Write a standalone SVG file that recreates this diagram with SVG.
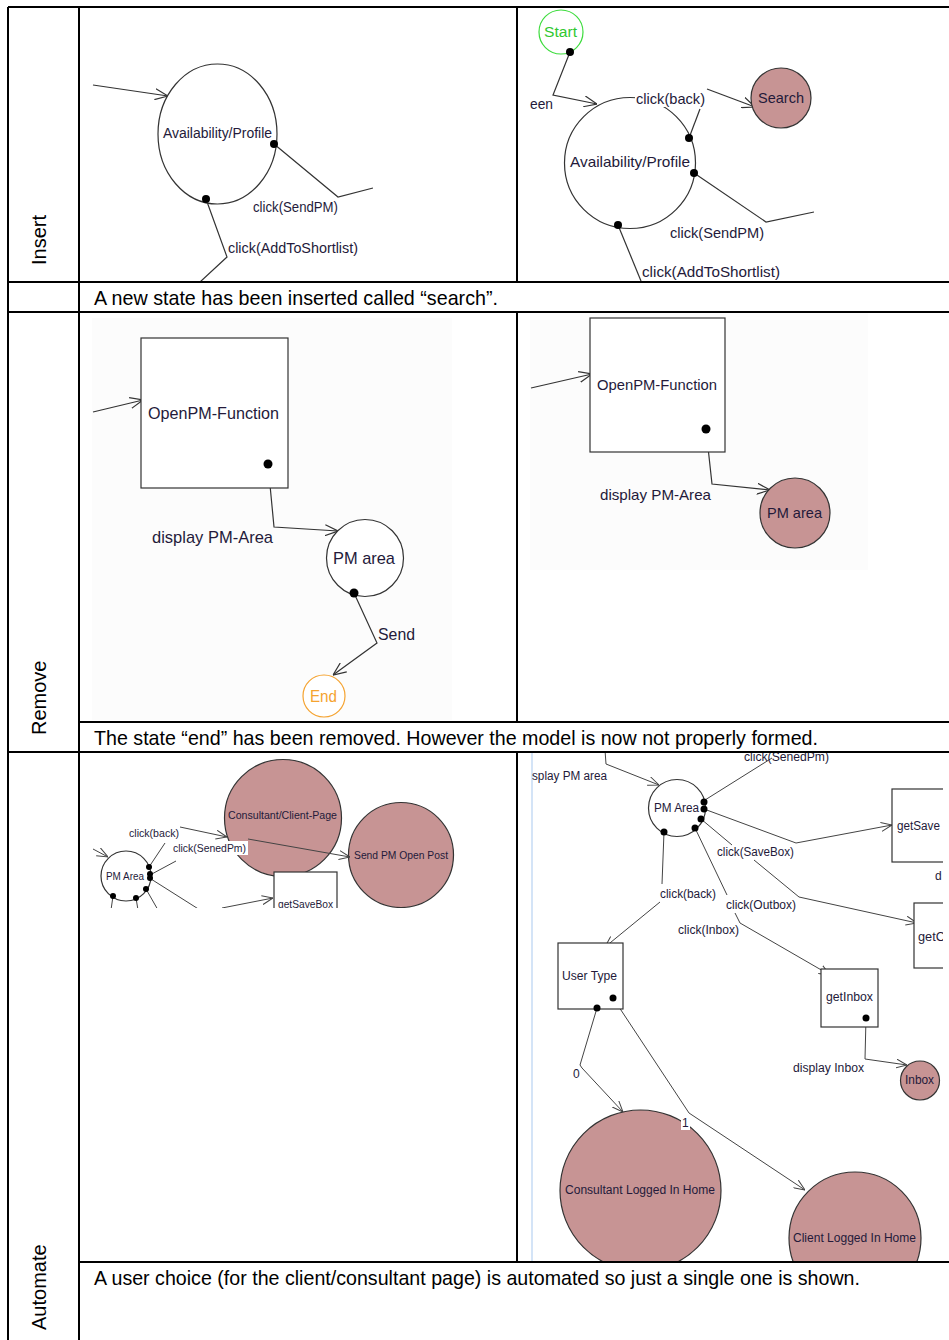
<svg xmlns="http://www.w3.org/2000/svg" width="949" height="1340" viewBox="0 0 949 1340">
<style>
.tbl{stroke:#000;stroke-width:2;fill:none}
.cap{font-family:"Liberation Sans",Arial,sans-serif;font-size:21px;fill:#000}
.lab{font-family:"Liberation Sans",Arial,sans-serif;font-size:20px;fill:#000}
.n{font-family:"Liberation Sans",Arial,sans-serif;fill:#241a3a}
.st{fill:#fff;stroke:#333;stroke-width:1.2}
.stf{fill:#c79494;stroke:#333;stroke-width:1.2}
.c{fill:none;stroke:#333;stroke-width:1.2}
.ca{fill:none;stroke:#333;stroke-width:1.2;marker-end:url(#ah)}
.cs{fill:none;stroke:#444;stroke-width:1;marker-end:url(#ahs)}
.cl{fill:none;stroke:#444;stroke-width:1}
.dot{fill:#000}
.bgw{fill:#fff}
</style>
<defs>
<marker id="ah" viewBox="0 0 13 12" refX="13" refY="6" markerWidth="13" markerHeight="12" orient="auto" markerUnits="userSpaceOnUse"><path d="M0,0.5 L13,6 L0,11.5" fill="none" stroke="#333" stroke-width="1.2"/></marker>
<marker id="ahs" viewBox="0 0 11 10" refX="11" refY="5" markerWidth="11" markerHeight="10" orient="auto" markerUnits="userSpaceOnUse"><path d="M0,0.5 L11,5 L0,9.5" fill="none" stroke="#444" stroke-width="1"/></marker>
<clipPath id="clipAL"><rect x="92" y="753" width="388" height="155"/></clipPath>
<clipPath id="clipAR"><rect x="532" y="753" width="411" height="508"/></clipPath>
<clipPath id="clipIR"><rect x="519" y="8" width="430" height="273"/></clipPath>
<clipPath id="clipIL"><rect x="81" y="8" width="435" height="273"/></clipPath>
</defs>
<rect x="0" y="0" width="949" height="1340" fill="#fff"/>

<!-- Table -->
<g id="table">
<path class="tbl" d="M8,7 H949 M8,282 H949 M8,312 H949 M79,722 H949 M8,752 H949 M79,1262 H949 M8,7 V1340 M79,7 V1340 M517,7 V282 M517,312 V722 M517,752 V1262"/>
</g>
<g id="row-labels">
<text class="lab" transform="translate(46,265) rotate(-90)">Insert</text>
<text class="lab" transform="translate(46,735) rotate(-90)">Remove</text>
<text class="lab" transform="translate(46,1330) rotate(-90)">Automate</text>
</g>
<g id="captions">
<text class="cap" x="94" y="305" textLength="404" lengthAdjust="spacingAndGlyphs">A new state has been inserted called “search”.</text>
<text class="cap" x="94" y="745" textLength="724" lengthAdjust="spacingAndGlyphs">The state “end” has been removed. However the model is now not properly formed.</text>
<text class="cap" x="94" y="1285" textLength="766" lengthAdjust="spacingAndGlyphs">A user choice (for the client/consultant page) is automated so just a single one is shown.</text>
</g>

<!-- ===== Insert, left ===== -->
<g clip-path="url(#clipIL)">
<g id="connectors-insert-left">
<line class="ca" x1="93" y1="85" x2="168" y2="96"/>
<polyline class="c" points="274,144 338,197 373,188"/>
<polyline class="c" points="206,199 227,257 200,282"/>
</g>
<g id="il-avail">
<ellipse class="st" cx="217.5" cy="134" rx="59.5" ry="70"/>
<text class="n" x="163" y="138" font-size="14" textLength="109" lengthAdjust="spacingAndGlyphs">Availability/Profile</text>
<circle class="dot" cx="274" cy="144" r="4"/>
<circle class="dot" cx="206" cy="199" r="4"/>
</g>
<g id="il-labels">
<text class="n" x="253" y="212" font-size="14" textLength="85" lengthAdjust="spacingAndGlyphs">click(SendPM)</text>
<text class="n" x="228" y="253" font-size="14" textLength="130" lengthAdjust="spacingAndGlyphs">click(AddToShortlist)</text>
</g>
</g>

<!-- ===== Insert, right ===== -->
<g clip-path="url(#clipIR)">
<g id="connectors-insert-right">
<polyline class="ca" points="570,52 553,95 597,104"/>
<polyline class="c" points="689,138 700,109"/>
<line class="ca" x1="707" y1="89" x2="755" y2="107"/>
<polyline class="c" points="694,173 766,222 814,212"/>
<line class="c" x1="618" y1="225" x2="641" y2="281"/>
</g>
<g id="ir-start">
<circle cx="561" cy="32" r="22" fill="#fff" stroke="#3ddc3d" stroke-width="1.2"/>
<text class="n" x="544" y="37" font-size="14" style="fill:#30c830" textLength="33" lengthAdjust="spacingAndGlyphs">Start</text>
<circle class="dot" cx="570" cy="52" r="4"/>
</g>
<g id="ir-avail">
<circle class="st" cx="630" cy="163" r="65.5"/>
<text class="n" x="570" y="167" font-size="15" textLength="120" lengthAdjust="spacingAndGlyphs">Availability/Profile</text>
<circle class="dot" cx="689" cy="138" r="4"/>
<circle class="dot" cx="694" cy="173" r="4"/>
<circle class="dot" cx="618" cy="225" r="4"/>
</g>
<g id="ir-search">
<circle class="stf" cx="781" cy="98" r="30"/>
<text class="n" x="758" y="103" font-size="15" textLength="46" lengthAdjust="spacingAndGlyphs">Search</text>
</g>
<g id="ir-labels">
<text class="n" x="530" y="109" font-size="14" textLength="23" lengthAdjust="spacingAndGlyphs">een</text>
<rect class="bgw" x="635" y="90" width="71" height="17"/>
<text class="n" x="636" y="104" font-size="15" textLength="69" lengthAdjust="spacingAndGlyphs">click(back)</text>
<text class="n" x="670" y="238" font-size="15" textLength="94" lengthAdjust="spacingAndGlyphs">click(SendPM)</text>
<text class="n" x="642" y="277" font-size="15" textLength="138" lengthAdjust="spacingAndGlyphs">click(AddToShortlist)</text>
</g>
</g>

<!-- ===== Remove, left ===== -->
<rect x="92" y="318" width="360" height="402" fill="#fcfcfc"/>
<g id="connectors-remove-left">
<line class="ca" x1="93" y1="412" x2="143" y2="400"/>
<polyline class="ca" points="268,464 274,527 338,531"/>
<polyline class="ca" points="354,593 377,643 333,675"/>
</g>
<g id="rl-openpm">
<rect class="st" x="141" y="338" width="147" height="150"/>
<text class="n" x="148" y="419" font-size="17" textLength="131" lengthAdjust="spacingAndGlyphs">OpenPM-Function</text>
<circle class="dot" cx="268" cy="464" r="4.5"/>
</g>
<g id="rl-pmarea">
<circle class="st" cx="365" cy="558" r="38.5"/>
<text class="n" x="333" y="564" font-size="17" textLength="62" lengthAdjust="spacingAndGlyphs">PM area</text>
<circle class="dot" cx="354" cy="593" r="4.5"/>
</g>
<g id="rl-end">
<circle cx="324" cy="696" r="21" fill="#fff" stroke="#f5a330" stroke-width="1.2"/>
<text class="n" x="310" y="702" font-size="17" style="fill:#f5a330" textLength="27" lengthAdjust="spacingAndGlyphs">End</text>
</g>
<g id="rl-labels">
<text class="n" x="152" y="543" font-size="17" textLength="121" lengthAdjust="spacingAndGlyphs">display PM-Area</text>
<text class="n" x="378" y="640" font-size="17" textLength="37" lengthAdjust="spacingAndGlyphs">Send</text>
</g>

<!-- ===== Remove, right ===== -->
<rect x="530" y="313" width="338" height="257" fill="#fcfcfc"/>
<g id="connectors-remove-right">
<line class="ca" x1="531" y1="388" x2="592" y2="374"/>
<polyline class="ca" points="706,429 712,484 770,490"/>
</g>
<g id="rr-openpm">
<rect class="st" x="590" y="318" width="135" height="134"/>
<text class="n" x="597" y="390" font-size="15" textLength="120" lengthAdjust="spacingAndGlyphs">OpenPM-Function</text>
<circle class="dot" cx="706" cy="429" r="4.5"/>
</g>
<g id="rr-pmarea">
<circle class="stf" cx="795" cy="513" r="35"/>
<text class="n" x="767" y="518" font-size="15" textLength="55" lengthAdjust="spacingAndGlyphs">PM area</text>
</g>
<text class="n" x="600" y="500" font-size="15" textLength="111" lengthAdjust="spacingAndGlyphs">display PM-Area</text>

<!-- ===== Automate, left ===== -->
<g clip-path="url(#clipAL)">
<g id="al-consultant">
<circle class="stf" cx="283" cy="818" r="58.5"/>
<text class="n" x="228" y="819" font-size="11" textLength="109" lengthAdjust="spacingAndGlyphs">Consultant/Client-Page</text>
</g>
<g id="al-sendpm">
<circle class="stf" cx="401" cy="855" r="52.5"/>
<text class="n" x="354" y="859" font-size="11" textLength="94" lengthAdjust="spacingAndGlyphs">Send PM Open Post</text>
</g>
<g id="al-getsavebox">
<rect class="st" x="274" y="872" width="63" height="60"/>
<text class="n" x="278" y="908" font-size="11" textLength="55" lengthAdjust="spacingAndGlyphs">getSaveBox</text>
</g>
<g id="connectors-automate-left">
<line class="cs" x1="93" y1="849" x2="108" y2="857"/>
<line class="cl" x1="149" y1="867" x2="165" y2="843"/>
<line class="cs" x1="180" y1="827" x2="227" y2="837"/>
<line class="cl" x1="150" y1="875" x2="176" y2="861"/>
<line class="cs" x1="248" y1="839" x2="350" y2="857"/>
<line class="cl" x1="151" y1="879" x2="200" y2="910"/>
<line class="cs" x1="222" y1="908" x2="273" y2="898"/>
<line class="cl" x1="113" y1="896" x2="111" y2="910"/>
<line class="cl" x1="136" y1="898" x2="138" y2="910"/>
<line class="cl" x1="146" y1="889" x2="158" y2="910"/>
</g>
<g id="al-pmarea">
<circle class="st" cx="126" cy="876" r="25"/>
<text class="n" x="106" y="880" font-size="11" textLength="38" lengthAdjust="spacingAndGlyphs">PM Area</text>
<circle class="dot" cx="149" cy="867" r="3"/>
<circle class="dot" cx="150" cy="874" r="3"/>
<circle class="dot" cx="150" cy="878" r="3"/>
<circle class="dot" cx="146" cy="889" r="3"/>
<circle class="dot" cx="136" cy="898" r="3"/>
<circle class="dot" cx="113" cy="896" r="3"/>
</g>
<g id="al-labels">
<text class="n" x="129" y="837" font-size="11" textLength="50" lengthAdjust="spacingAndGlyphs">click(back)</text>
<rect class="bgw" x="172" y="841" width="76" height="14"/>
<text class="n" x="173" y="852" font-size="11" textLength="73" lengthAdjust="spacingAndGlyphs">click(SenedPm)</text>
</g>
</g>

<!-- ===== Automate, right ===== -->
<line x1="532" y1="753" x2="532" y2="1261" stroke="#a9c9ef" stroke-width="1"/>
<g clip-path="url(#clipAR)">
<g id="connectors-automate-right">
<polyline class="cs" points="605,750 606,764 659,785"/>
<line class="cl" x1="705" y1="800" x2="772" y2="758"/>
<polyline class="cs" points="704,809 796,843 892,825"/>
<line class="cl" x1="701" y1="819" x2="732" y2="845"/>
<polyline class="cs" points="754,860 799,897 917,923"/>
<line class="cl" x1="695" y1="828" x2="727" y2="895"/>
<polyline class="cs" points="735,913 740,923 830,975"/>
<line class="cl" x1="664" y1="832" x2="662" y2="884"/>
<line class="cs" x1="660" y1="902" x2="605" y2="947"/>
<polyline class="cs" points="597,1008 580,1065 582,1068 623,1112"/>
<polyline class="cs" points="613,998 689,1113 805,1190"/>
<polyline class="cs" points="866,1018 865,1059 907,1065"/>
</g>
<g id="ar-pmarea">
<circle class="st" cx="677" cy="808" r="28.5"/>
<text class="n" x="654" y="812" font-size="12" textLength="45" lengthAdjust="spacingAndGlyphs">PM Area</text>
<circle class="dot" cx="704" cy="802" r="3.5"/>
<circle class="dot" cx="704" cy="809" r="3.5"/>
<circle class="dot" cx="701" cy="819" r="3.5"/>
<circle class="dot" cx="695" cy="828" r="3.5"/>
<circle class="dot" cx="664" cy="832" r="3.5"/>
</g>
<g id="ar-getsave">
<rect class="st" x="892" y="789" width="60" height="73"/>
<text class="n" x="897" y="830" font-size="12" textLength="43" lengthAdjust="spacingAndGlyphs">getSave</text>
</g>
<g id="ar-getc">
<rect class="st" x="914" y="903" width="40" height="65"/>
<text class="n" x="918" y="941" font-size="12" textLength="27" lengthAdjust="spacingAndGlyphs">getC</text>
</g>
<g id="ar-usertype">
<rect class="st" x="558" y="943" width="65" height="66"/>
<text class="n" x="562" y="980" font-size="12" textLength="55" lengthAdjust="spacingAndGlyphs">User Type</text>
<circle class="dot" cx="613" cy="998" r="3.5"/>
<circle class="dot" cx="597" cy="1008" r="3.5"/>
</g>
<g id="ar-getinbox">
<rect class="st" x="821" y="969" width="57" height="58"/>
<text class="n" x="826" y="1001" font-size="12" textLength="47" lengthAdjust="spacingAndGlyphs">getInbox</text>
<circle class="dot" cx="866" cy="1018" r="3.5"/>
</g>
<g id="ar-inbox">
<circle class="stf" cx="920" cy="1080.5" r="19.5"/>
<text class="n" x="905" y="1084" font-size="12" textLength="29" lengthAdjust="spacingAndGlyphs">Inbox</text>
</g>
<g id="ar-consultant">
<circle class="stf" cx="640.5" cy="1190.5" r="80.5"/>
<text class="n" x="565" y="1194" font-size="12" textLength="150" lengthAdjust="spacingAndGlyphs">Consultant Logged In Home</text>
</g>
<g id="ar-client">
<circle class="stf" cx="855" cy="1238" r="66"/>
<text class="n" x="793" y="1242" font-size="12" textLength="123" lengthAdjust="spacingAndGlyphs">Client Logged In Home</text>
</g>
<g id="ar-labels">
<text class="n" x="532" y="780" font-size="12" textLength="75" lengthAdjust="spacingAndGlyphs">splay PM area</text>
<text class="n" x="744" y="760.5" font-size="12" textLength="85" lengthAdjust="spacingAndGlyphs">click(SenedPm)</text>
<text class="n" x="935" y="880" font-size="12">d</text>
<text class="n" x="717" y="856" font-size="12" textLength="77" lengthAdjust="spacingAndGlyphs">click(SaveBox)</text>
<text class="n" x="660" y="898" font-size="12" textLength="56" lengthAdjust="spacingAndGlyphs">click(back)</text>
<text class="n" x="726" y="909" font-size="12" textLength="70" lengthAdjust="spacingAndGlyphs">click(Outbox)</text>
<text class="n" x="678" y="934" font-size="12" textLength="61" lengthAdjust="spacingAndGlyphs">click(Inbox)</text>
<text class="n" x="573" y="1078" font-size="12">0</text>
<rect class="bgw" x="681" y="1116" width="9" height="14"/>
<text class="n" x="682" y="1127" font-size="12">1</text>
<text class="n" x="793" y="1072" font-size="12" textLength="71" lengthAdjust="spacingAndGlyphs">display Inbox</text>
</g>
</g>
</svg>
